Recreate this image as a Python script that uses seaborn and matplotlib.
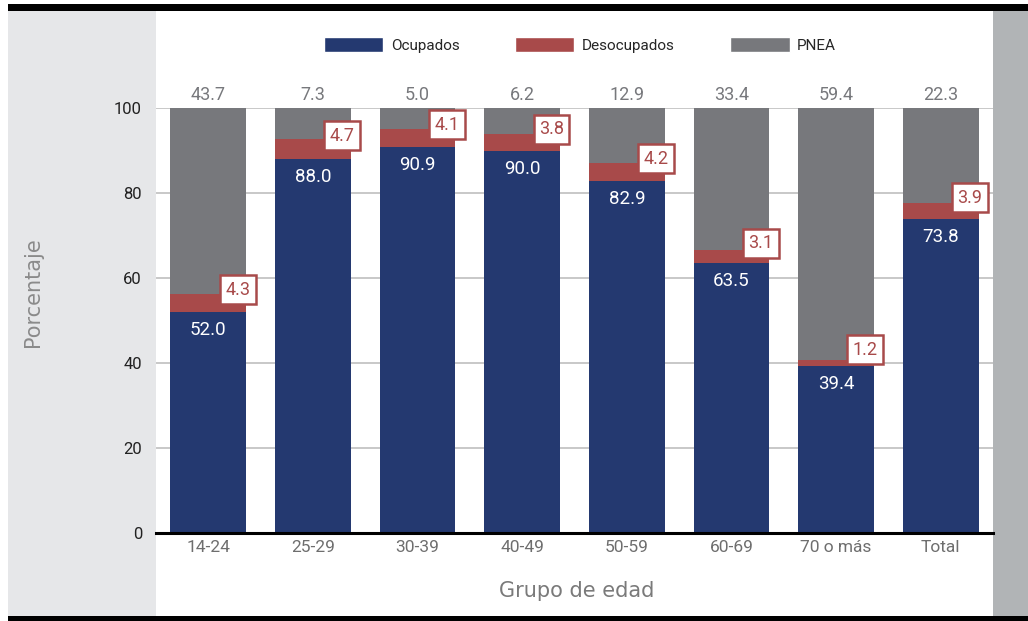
import matplotlib
matplotlib.use("Agg")
import matplotlib.pyplot as plt
from matplotlib.patches import Rectangle, Patch
import seaborn as sns
import pandas as pd
import numpy as np

categories = ["14-24", "25-29", "30-39", "40-49", "50-59", "60-69", "70 o más", "Total"]
ocupados = [52.0, 88.0, 90.9, 90.0, 82.9, 63.5, 39.4, 73.8]
desocupados = [4.3, 4.7, 4.1, 3.8, 4.2, 3.1, 1.2, 3.9]
pnea = [43.7, 7.3, 5.0, 6.2, 12.9, 33.4, 59.4, 22.3]
yticks = [0, 20, 40, 60, 80, 100]

C_OCU = "#243970"
C_DES = "#A84A4A"
C_PNEA = "#77787C"

sns.set_theme(style="white")
plt.rcParams["font.family"] = ["Roboto", "DejaVu Sans"]

W, H = 1028, 621
fig = plt.figure(figsize=(W / 100, H / 100), dpi=100)
fig.patch.set_facecolor("white")

def px_rect(x0, y0, x1, y1, color):
    fig.patches.append(Rectangle((x0 / W, 1 - y1 / H), (x1 - x0) / W, (y1 - y0) / H,
                                 transform=fig.transFigure, facecolor=color,
                                 edgecolor="none", zorder=-5))

px_rect(8, 11, 156, 616, "#E6E7E9")
px_rect(993, 11, 1028, 616, "#B1B4B6")
px_rect(8, 4, 1028, 11, "#000000")
px_rect(8, 616, 1028, 621, "#000000")

ax = fig.add_axes([156 / W, 1 - 533 / H, (993 - 156) / W, (533 - 108) / H])
ax.set_facecolor("none")

df = pd.DataFrame({"grupo": categories, "ocu": ocupados, "des": desocupados, "pnea": pnea})
df["top"] = df["ocu"] + df["des"] + df["pnea"]
df["mid"] = df["ocu"] + df["des"]

bw = 0.725
for col, c, z in [("top", C_PNEA, 2), ("mid", C_DES, 3), ("ocu", C_OCU, 4)]:
    sns.barplot(data=df, x="grupo", y=col, order=categories, color=c, saturation=1,
                width=bw, ax=ax, zorder=z, edgecolor="none", linewidth=0)

ax.set_xlim(-0.5, len(categories) - 0.5)
ax.set_ylim(0, 100)
ax.set_yticks(yticks)
ax.set_yticklabels([str(v) for v in yticks])
ax.set_xlabel("")
ax.set_ylabel("")
ax.yaxis.grid(True, color="#C4C4C4", linewidth=1.3)
ax.set_axisbelow(True)
for s in ["left", "right", "top"]:
    ax.spines[s].set_visible(False)
ax.spines["bottom"].set_color("black")
ax.spines["bottom"].set_linewidth(2.2)
ax.spines["bottom"].set_zorder(6)
ax.tick_params(axis="y", length=0, pad=10, labelsize=12, labelcolor="#222222")
ax.tick_params(axis="x", length=0, pad=5, labelsize=12.5, labelcolor="#6E6E6E")

for i in range(len(categories)):
    ax.annotate(f"{pnea[i]:.1f}", (i, 100), xytext=(0, 3), textcoords="offset points",
                ha="center", va="bottom", fontsize=13, color="#77787C", clip_on=False)
    ax.annotate(f"{ocupados[i]:.1f}", (i, ocupados[i]), xytext=(0, -13), textcoords="offset points",
                ha="center", va="center", fontsize=13.5, color="white", zorder=7)
    ax.annotate(f"{desocupados[i]:.1f}", (i + 0.28, ocupados[i] + desocupados[i] / 2),
                xytext=(0, 9.5), textcoords="offset points", ha="center", va="center",
                fontsize=13, color=C_DES, zorder=8,
                bbox=dict(boxstyle="square,pad=0.3", facecolor="white", edgecolor=C_DES,
                          linewidth=1.8))

fig.text(33 / W, 1 - 292 / H, "Porcentaje", rotation=90, ha="center", va="center",
         fontsize=15, color="#8A8A8A", family=["DejaVu Sans"])
fig.text(577 / W, 1 - 591 / H, "Grupo de edad", ha="center", va="center",
         fontsize=15, color="#7A7A7A", family=["DejaVu Sans"])

handles = [Patch(facecolor=C_OCU, label="Ocupados"),
           Patch(facecolor=C_DES, label="Desocupados"),
           Patch(facecolor=C_PNEA, label="PNEA")]
fig.legend(handles=handles, loc="center", bbox_to_anchor=(580 / W, 1 - 45 / H), ncol=3,
           frameon=False, fontsize=11, handlelength=3.9, handleheight=1.1,
           handletextpad=0.5, columnspacing=3.6, borderaxespad=0)

fig.savefig("out.png", dpi=100)
